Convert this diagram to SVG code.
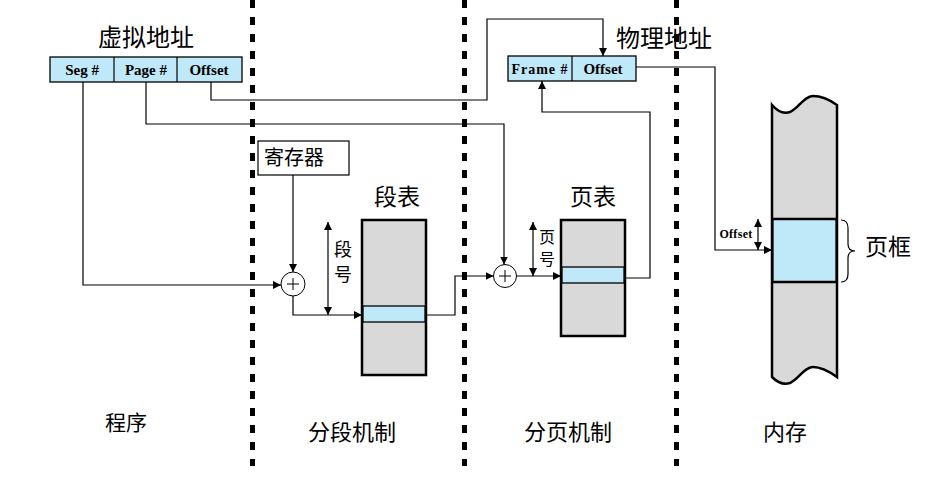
<svg xmlns="http://www.w3.org/2000/svg" width="932" height="478" viewBox="0 0 932 478">
<defs>
<marker id="ah" viewBox="0 0 10 10" refX="10" refY="5" markerWidth="8" markerHeight="8" markerUnits="userSpaceOnUse" orient="auto-start-reverse">
<path d="M0,0 L10,5 L0,10 z" fill="#000"/>
</marker>
<style>
.cn{font-family:"Noto Sans CJK SC","Noto Sans",sans-serif;fill:#000}
.en{font-family:"Liberation Serif",serif;font-weight:bold;fill:#000}
.box{fill:#bfe8f8;stroke:#000;stroke-width:1.3}
.tbl{fill:#d9d9d9;stroke:#000;stroke-width:2.5}
.band{fill:#bfe8f8;stroke:#000;stroke-width:1.3}
.ln{fill:none;stroke:#000;stroke-width:1.2}
.arr{fill:none;stroke:#000;stroke-width:1.2;marker-end:url(#ah)}
.dash{stroke:#000;stroke-width:5;stroke-dasharray:8 9}
</style>
</defs>
<rect width="932" height="478" fill="#fff"/>
<g id="dividers">
<line class="dash" x1="252.5" y1="0" x2="252.5" y2="466"/>
<line class="dash" x1="464.5" y1="0" x2="464.5" y2="466"/>
<line class="dash" x1="676.5" y1="0" x2="676.5" y2="466"/>
</g>
<g id="virtual-address">
<text class="cn" x="146" y="46" font-size="24" text-anchor="middle">虚拟地址</text>
<rect class="box" x="50" y="57" width="192" height="25"/>
<line class="ln" x1="114" y1="57" x2="114" y2="82"/>
<line class="ln" x1="177" y1="57" x2="177" y2="82"/>
<text class="en" x="82" y="75" font-size="15" text-anchor="middle">Seg #</text>
<text class="en" x="146" y="75" font-size="15" text-anchor="middle">Page #</text>
<text class="en" x="209" y="75" font-size="15" text-anchor="middle">Offset</text>
</g>
<g id="physical-address">
<text class="cn" x="664" y="47" font-size="24" text-anchor="middle">物理地址</text>
<rect class="box" x="508" y="56" width="128" height="25"/>
<line class="ln" x1="572" y1="56" x2="572" y2="81"/>
<text class="en" x="540" y="74" font-size="14" text-anchor="middle" letter-spacing="1">Frame #</text>
<text class="en" x="603" y="74" font-size="15" text-anchor="middle">Offset</text>
</g>
<g id="register">
<rect x="258" y="141" width="91" height="34" fill="#fff" stroke="#000" stroke-width="1.2"/>
<text class="cn" x="294" y="165" font-size="20" text-anchor="middle">寄存器</text>
</g>
<g id="adder1">
<circle cx="293" cy="284" r="12" fill="#fff" stroke="#000" stroke-width="1"/>
<path d="M287,284 H299 M293,278 V290" stroke="#000" stroke-width="1"/>
</g>
<g id="adder2">
<circle cx="505" cy="276" r="11.5" fill="#fff" stroke="#000" stroke-width="1"/>
<path d="M499,276 H511 M505,270 V282" stroke="#000" stroke-width="1"/>
</g>
<g id="segment-table">
<text class="cn" x="397" y="205" font-size="23" text-anchor="middle">段表</text>
<rect class="tbl" x="362" y="220" width="64" height="155"/>
<rect class="band" x="363" y="306" width="62" height="16"/>
</g>
<g id="page-table">
<text class="cn" x="593" y="205" font-size="23" text-anchor="middle">页表</text>
<rect class="tbl" x="561" y="220" width="64" height="116"/>
<rect class="band" x="562" y="267" width="62" height="16"/>
</g>
<g id="memory">
<path class="tbl" d="M772,105 C778,112 784,114 790,112 C798,109 804,96 813,96 C822,96 830,100 837,105 L837,377 C830,372 822,367 813,367 C804,367 798,380 790,383 C784,385 778,383 772,377 Z"/>
<rect class="band" x="773" y="219" width="63" height="63"/>
<line x1="772" y1="219" x2="837" y2="219" stroke="#000" stroke-width="2.5"/>
<line x1="772" y1="282" x2="837" y2="282" stroke="#000" stroke-width="2.5"/>
<path class="ln" d="M841,220 Q848,220 848,228 L848,244 Q848,251 855,251 Q848,251 848,258 L848,274 Q848,282 841,282"/>
<text class="cn" x="888" y="255" font-size="23" text-anchor="middle">页框</text>
</g>
<g id="labels">
<text class="cn" x="343" y="256" font-size="18" text-anchor="middle">段</text>
<text class="cn" x="343" y="281" font-size="18" text-anchor="middle">号</text>
<text class="cn" x="547" y="243" font-size="16" text-anchor="middle">页</text>
<text class="cn" x="547" y="265" font-size="16" text-anchor="middle">号</text>
<text class="en" x="736" y="238" font-size="12" text-anchor="middle" letter-spacing="0.3">Offset</text>
<text class="cn" x="126" y="430" font-size="21" text-anchor="middle">程序</text>
<text class="cn" x="352" y="440" font-size="22" text-anchor="middle">分段机制</text>
<text class="cn" x="568" y="440" font-size="22" text-anchor="middle">分页机制</text>
<text class="cn" x="785" y="440" font-size="22" text-anchor="middle">内存</text>
</g>
<g id="connectors">
<path class="arr" d="M83,82 V285 H281"/>
<path class="arr" d="M146,82 V124 H504 V264.5"/>
<path class="arr" d="M211,82 V100 H487 V19 H603 V56"/>
<path class="arr" d="M293,175 V272"/>
<path class="arr" d="M293,296 V315 H362"/>
<path class="arr" d="M426,315 H455 V276 H493.5"/>
<path class="arr" d="M516.5,276 H561"/>
<path class="arr" d="M625,278 H650 V112 H542 V81"/>
<path class="arr" d="M636,67 H715 V250 H772"/>
<line class="arr" x1="328" y1="268" x2="328" y2="222"/>
<line class="arr" x1="328" y1="268" x2="328" y2="315"/>
<line class="arr" x1="533" y1="248" x2="533" y2="222"/>
<line class="arr" x1="533" y1="248" x2="533" y2="276"/>
<line class="arr" x1="758" y1="234" x2="758" y2="219"/>
<line class="arr" x1="758" y1="234" x2="758" y2="250"/>
</g>
</svg>
